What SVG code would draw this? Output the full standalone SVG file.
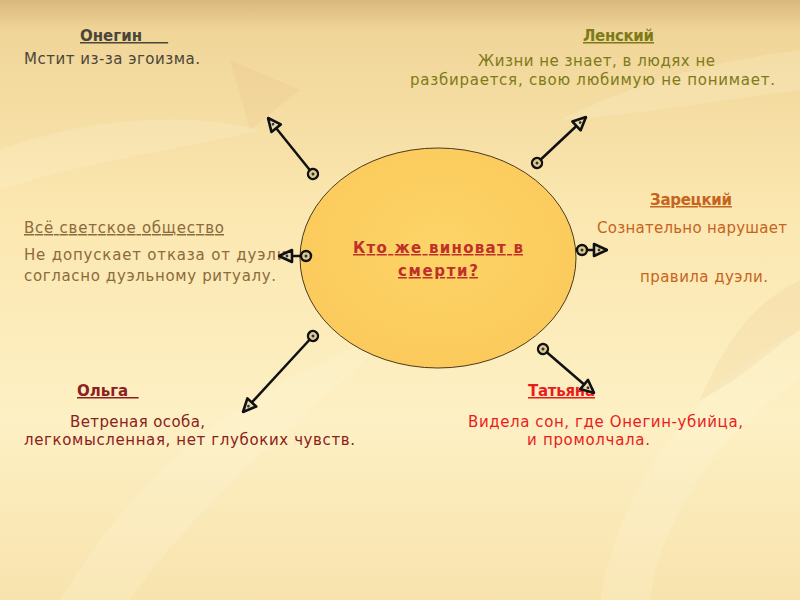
<svg xmlns="http://www.w3.org/2000/svg" width="800" height="600" viewBox="0 0 800 600">
<defs>
<linearGradient id="bg" x1="0" y1="0" x2="0" y2="1">
<stop offset="0" stop-color="#d9b87e"/>
<stop offset="0.05" stop-color="#f0d598"/>
<stop offset="0.35" stop-color="#fbe7b0"/>
<stop offset="0.7" stop-color="#fdf0c4"/>
<stop offset="1" stop-color="#f8e3ad"/>
</linearGradient>
<radialGradient id="ell" cx="0.5" cy="0.45" r="0.6">
<stop offset="0" stop-color="#fdd468"/>
<stop offset="1" stop-color="#fbc95a"/>
</radialGradient>
<marker id="ah" viewBox="0 0 16 16" refX="15" refY="8" markerWidth="16" markerHeight="16" markerUnits="userSpaceOnUse" orient="auto">
<path d="M2,2 L15,8 L2,14 Z" fill="#e8dcb0" stroke="#111" stroke-width="2.6" stroke-linejoin="round"/>
<circle cx="7" cy="8" r="1.4" fill="#333"/>
</marker>
<marker id="ct" viewBox="0 0 14 14" refX="7" refY="7" markerWidth="14" markerHeight="14" markerUnits="userSpaceOnUse" orient="auto">
<circle cx="7" cy="7" r="5" fill="#e0cc90" stroke="#111" stroke-width="2.4"/>
<circle cx="7" cy="7" r="1.5" fill="#333"/>
</marker>
</defs>
<style>
text{font-family:"DejaVu Sans","Liberation Sans",sans-serif;font-size:15px}
.conn line{stroke:#111;stroke-width:2.5;marker-start:url(#ct);marker-end:url(#ah)}
.u{text-decoration:underline}
</style>
<rect width="800" height="600" fill="url(#bg)"/>
<g opacity="0.18" fill="#fffbe6">
<path d="M60,600 C150,450 260,380 400,330 C300,420 200,500 130,600 Z"/>
<path d="M560,120 C640,80 720,60 800,50 L800,90 C720,100 640,115 560,120 Z"/>
<path d="M600,600 C620,480 700,380 800,330 L800,380 C720,430 660,520 650,600 Z"/>
<path d="M0,150 C80,120 180,110 260,130 C180,150 90,160 0,190 Z"/>
</g>
<g opacity="0.12" fill="#e0b070">
<path d="M230,60 L250,130 L300,90 Z"/>
<path d="M700,400 C730,330 760,300 800,280 L800,330 C770,350 740,380 700,400 Z"/>
</g>

<g id="center">
<ellipse cx="438" cy="258" rx="138" ry="110" fill="url(#ell)" stroke="#4a3a20" stroke-width="1"/>
<text x="438" y="253" text-anchor="middle" fill="#c0302a" class="u" font-size="16" font-weight="bold" textLength="170">Кто же виноват в</text>
<text x="438" y="276" text-anchor="middle" fill="#c0302a" class="u" font-size="16" font-weight="bold" textLength="80">смерти?</text>
</g>

<g id="onegin" fill="#4a463a">
<text x="80" y="41" font-weight="bold" class="u" xml:space="preserve">Онегин     </text>
<text x="24" y="64" textLength="176">Мстит из-за эгоизма.</text>
</g>

<g id="lensky" fill="#7d7a18">
<text x="583" y="41" font-weight="bold" class="u" textLength="71">Ленский</text>
<text x="478" y="66" textLength="237">Жизни не знает, в людях не</text>
<text x="410" y="85" textLength="365">разбирается, свою любимую не понимает.</text>
</g>

<g id="society" fill="#8c6a3c">
<text x="24" y="233" class="u" textLength="200">Всё светское общество</text>
<text x="24" y="260" textLength="268">Не допускает отказа от дуэли,</text>
<text x="24" y="281" textLength="252">согласно дуэльному ритуалу.</text>
</g>

<g id="zaretsky" fill="#c6641e">
<text x="650" y="205" font-weight="bold" class="u" textLength="82">Зарецкий</text>
<text x="597" y="233" textLength="190">Сознательно нарушает</text>
<text x="640" y="282" textLength="128">правила дуэли.</text>
</g>

<g id="olga" fill="#8c2020">
<text x="77" y="396" font-weight="bold" class="u" xml:space="preserve">Ольга  </text>
<text x="70" y="427" textLength="135">Ветреная особа,</text>
<text x="24" y="445" textLength="331">легкомысленная, нет глубоких чувств.</text>
</g>

<g id="tatyana" fill="#ea1c1c">
<text x="528" y="396" font-weight="bold" class="u" textLength="67">Татьяна</text>
<text x="468" y="427" textLength="275">Видела сон, где Онегин-убийца,</text>
<text x="527" y="445" textLength="123">и промолчала.</text>
</g>

<g class="conn" id="connectors">
<line x1="313" y1="174" x2="268" y2="118"/>
<line x1="537" y1="163" x2="586" y2="117"/>
<line x1="306" y1="256" x2="279" y2="256"/>
<line x1="582" y1="250" x2="607" y2="250"/>
<line x1="313" y1="336" x2="243" y2="412"/>
<line x1="543" y1="349" x2="594" y2="393"/>
</g>
</svg>
